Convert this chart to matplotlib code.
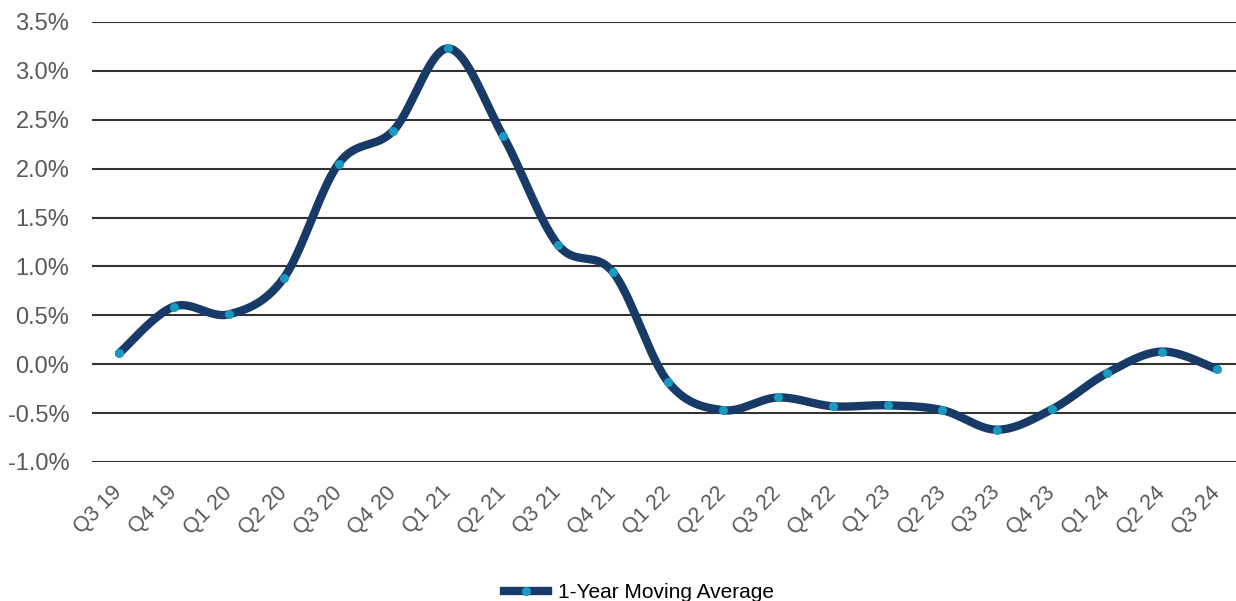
import numpy as np
import matplotlib.pyplot as plt
from matplotlib.ticker import FuncFormatter

quarters = ['Q3 19', 'Q4 19', 'Q1 20', 'Q2 20', 'Q3 20', 'Q4 20', 'Q1 21',
            'Q2 21', 'Q3 21', 'Q4 21', 'Q1 22', 'Q2 22', 'Q3 22', 'Q4 22',
            'Q1 23', 'Q2 23', 'Q3 23', 'Q4 23', 'Q1 24', 'Q2 24', 'Q3 24']
moving_avg = [0.11, 0.59, 0.51, 0.88, 2.05, 2.39, 3.23, 2.33, 1.22, 0.94,
              -0.18, -0.47, -0.34, -0.43, -0.42, -0.47, -0.67, -0.46,
              -0.09, 0.13, -0.05]

LINE = '#173a66'
DOT = '#1a9ac0'
GREY = '#595959'

plt.rcParams['font.family'] = ['Liberation Sans', 'DejaVu Sans']


def smooth(x, y, steps=30):
    # cubic bezier through each point, catmull-rom style handles
    x = np.asarray(x, float)
    y = np.asarray(y, float)
    px = np.concatenate([[x[0]], x, [x[-1]]])
    py = np.concatenate([[y[0]], y, [y[-1]]])
    t = np.linspace(0, 1, steps)[:, None]
    xs, ys = [], []
    for i in range(1, len(px) - 2):
        p0 = np.array([px[i], py[i]])
        p3 = np.array([px[i + 1], py[i + 1]])
        p1 = p0 + (np.array([px[i + 1], py[i + 1]]) - np.array([px[i - 1], py[i - 1]])) / 6
        p2 = p3 - (np.array([px[i + 2], py[i + 2]]) - np.array([px[i], py[i]])) / 6
        seg = ((1 - t) ** 3) * p0 + 3 * ((1 - t) ** 2) * t * p1 \
            + 3 * (1 - t) * t ** 2 * p2 + t ** 3 * p3
        xs.append(seg[:, 0])
        ys.append(seg[:, 1])
    return np.concatenate(xs), np.concatenate(ys)


W, H = 1236, 601
fig = plt.figure(figsize=(W / 100, H / 100), dpi=100)
ax = fig.add_axes([91.5 / W, 139 / H, (W - 91.5) / W, 440 / H])

x = np.arange(len(quarters))
sx, sy = smooth(x, moving_avg)
ax.plot(sx, sy, color=LINE, lw=6, solid_capstyle='round', zorder=3,
        clip_on=False)
ax.plot(x, moving_avg, 'o', color=DOT, ms=6.5, mec='none', zorder=4,
        clip_on=False)

ax.set_xlim(-0.5, -0.5 + (W - 91.5) / 54.9)
ax.set_ylim(-1.0, 3.5)
ax.set_yticks(np.arange(-1.0, 3.51, 0.5))
ax.yaxis.set_major_formatter(FuncFormatter(lambda v, p: f'{v:.1f}%'))
ax.grid(axis='y', color='#333333', lw=1.5)
ax.set_axisbelow(True)
for s in ax.spines.values():
    s.set_visible(False)

ax.set_xticks(x)
ax.set_xticklabels(quarters, rotation=45, ha='right', va='center',
                   rotation_mode='anchor')
ax.tick_params(length=0, labelcolor=GREY)
ax.tick_params(axis='x', pad=20, labelsize=15.5)
ax.tick_params(axis='y', pad=16, labelsize=17)

h, = ax.plot([], [], color=LINE, lw=6, marker='o', mfc=DOT, mec='none',
             ms=6.5, label='1-Year Moving Average')
fig.legend(handles=[h], loc='center', bbox_to_anchor=(639 / W, 1 - 593 / H),
           frameon=False, fontsize=15, handlelength=2.1, handletextpad=0.5)

fig.savefig('out.png', dpi=100)
